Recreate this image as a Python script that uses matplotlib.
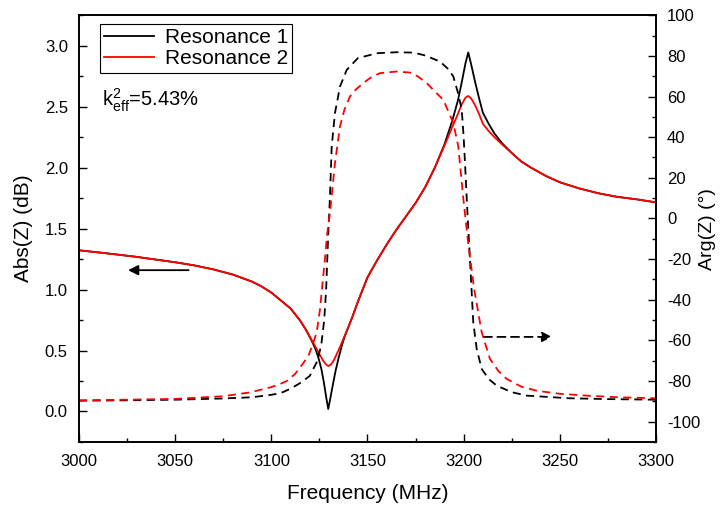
import matplotlib
matplotlib.use("Agg")
import matplotlib.pyplot as plt
from matplotlib.ticker import MultipleLocator, FormatStrFormatter

plt.rcParams['font.family'] = ['Liberation Sans', 'DejaVu Sans']
plt.rcParams['mathtext.fontset'] = 'custom'
plt.rcParams['mathtext.rm'] = 'Liberation Sans'
plt.rcParams['mathtext.it'] = 'Liberation Sans'
plt.rcParams['axes.unicode_minus'] = False

# Impedance magnitude (dB) for both resonances
freq_abs_1 = [3000, 3010, 3020, 3030, 3040, 3050, 3060, 3070, 3080, 3090, 3095,
              3100, 3105, 3110, 3115, 3118, 3121, 3123, 3124.5, 3126, 3127.3,
              3128.5, 3129.6, 3130.7, 3132, 3133.5, 3135, 3136.5, 3138, 3140,
              3142, 3145, 3150, 3155, 3160, 3165, 3170, 3175, 3180, 3185, 3190,
              3194, 3197, 3199, 3201, 3202.4, 3204, 3206, 3208, 3210, 3213,
              3216, 3220, 3225, 3230, 3235, 3243, 3250, 3260, 3270, 3280,
              3290, 3300]
abs_1 = [1.322, 1.305, 1.287, 1.268, 1.246, 1.224, 1.198, 1.165, 1.123, 1.065, 1.025,
         0.975, 0.91, 0.845, 0.745, 0.67, 0.58, 0.51, 0.44, 0.35, 0.24,
         0.12, 0.02, 0.11, 0.22, 0.34, 0.44, 0.53, 0.61, 0.69,
         0.77, 0.90, 1.10, 1.24, 1.37, 1.49, 1.60, 1.71, 1.84, 2.00, 2.19,
         2.38, 2.55, 2.70, 2.86, 2.945, 2.84, 2.70, 2.57, 2.45, 2.36,
         2.28, 2.20, 2.12, 2.05, 2.00, 1.93, 1.88, 1.83, 1.79, 1.76,
         1.74, 1.715]

freq_abs_2 = [3000, 3010, 3020, 3030, 3040, 3050, 3060, 3070, 3080, 3090, 3095,
              3100, 3105, 3110, 3115, 3118, 3121, 3123, 3125, 3127, 3128.5,
              3129.6, 3131, 3132.5, 3134, 3136, 3138, 3140, 3142, 3145, 3150,
              3155, 3160, 3165, 3170, 3175, 3180, 3185, 3190, 3194, 3197,
              3199, 3201, 3202.4, 3204, 3206, 3208, 3210, 3213, 3216, 3220,
              3225, 3230, 3235, 3243, 3250, 3260, 3270, 3280, 3290, 3300]
abs_2 = [1.322, 1.305, 1.287, 1.268, 1.246, 1.224, 1.198, 1.165, 1.123, 1.065, 1.025,
         0.975, 0.91, 0.845, 0.745, 0.67, 0.585, 0.53, 0.47, 0.415, 0.385,
         0.373, 0.385, 0.42, 0.47, 0.54, 0.615, 0.69, 0.77, 0.90, 1.10,
         1.24, 1.37, 1.49, 1.60, 1.71, 1.84, 2.00, 2.18, 2.33, 2.44,
         2.52, 2.575, 2.588, 2.565, 2.51, 2.44, 2.36, 2.30, 2.25, 2.19,
         2.12, 2.05, 2.00, 1.93, 1.88, 1.83, 1.79, 1.76, 1.74, 1.715]

# Impedance phase (degrees) for both resonances
freq_arg_1 = [3000, 3025, 3050, 3075, 3090, 3100, 3105, 3110, 3115, 3120, 3124,
              3126, 3127.5, 3128.5, 3129.5, 3130.5, 3131.4, 3133.1, 3135.7,
              3139.2, 3145, 3155, 3165, 3174, 3180, 3187.7, 3192, 3194.6, 3197,
              3199, 3200, 3200.7, 3202, 3203.5, 3205, 3206.8, 3209.4, 3213,
              3217.2, 3225, 3232.8, 3255, 3275, 3300]
arg_1 = [-89.7, -89.5, -89.2, -88.6, -88.0, -86.8, -85.9, -83.8, -81.0, -77.5, -70,
         -62, -50, -35, -10, 11, 35.5, 51.9, 64.9,
         73.1, 78.9, 81.3, 81.8, 81.6, 80.2, 77.2, 73.5, 69.9, 62,
         53.5, 40, 27.3, 2, -24, -51.2, -64.3, -74.1, -79,
         -82.3, -85.5, -87.2, -88.5, -88.9, -89.2]

freq_arg_2 = [3000, 3025, 3050, 3075, 3089, 3100, 3104.5, 3108, 3112.3, 3116, 3119.3,
              3121.5, 3123.6, 3125.3, 3127, 3127.9, 3129, 3130.5, 3131.8, 3133.1,
              3135.7, 3138, 3140.9, 3144, 3147.8, 3152, 3156.5, 3165, 3172, 3176,
              3180.8, 3185, 3189.4, 3194.6, 3197.2, 3199.8, 3202.4, 3205.5, 3209.4,
              3213.7, 3218, 3222.4, 3230, 3238, 3250, 3264, 3280, 3300]
arg_2 = [-89.5, -89.2, -88.8, -87.5, -85.6, -83, -81.5, -80, -76.6, -72, -67.6,
         -62, -56.1, -44.7, -28.3, -20, -8, 2.8, 15, 27.3,
         45.3, 53.5, 60, 63.5, 66.6, 69.5, 71.5, 72.3, 71.8, 70,
         66.6, 62.5, 58.4, 47, 35.5, 10, -12.5, -35, -56.1,
         -69.2, -75, -79, -82.8, -84.8, -86.3, -87.2, -88, -88.5]

labels = ['Resonance 1', 'Resonance 2']
colors = ['black', 'red']
lw = 1.3

fig = plt.figure(figsize=(7.2, 5.08), dpi=100)
ax = fig.add_axes([0.1097, 0.13, 0.8014, 0.84])
ax2 = ax.twinx()

ax.plot(freq_abs_1, abs_1, color=colors[0], lw=lw, label=labels[0], zorder=3)
ax.plot(freq_abs_2, abs_2, color=colors[1], lw=lw, label=labels[1], zorder=4)
ax2.plot(freq_arg_1, arg_1, color=colors[0], lw=lw, dashes=(4.5, 3))
ax2.plot(freq_arg_2, arg_2, color=colors[1], lw=lw, dashes=(4.5, 3))

ax.set_xlim(3000, 3300)
ax.set_ylim(-0.25, 3.25)
ax2.set_ylim(-110, 100)

ax.xaxis.set_major_locator(MultipleLocator(50))
ax.xaxis.set_minor_locator(MultipleLocator(25))
ax.yaxis.set_major_locator(MultipleLocator(0.5))
ax.yaxis.set_minor_locator(MultipleLocator(0.25))
ax2.yaxis.set_major_locator(MultipleLocator(20))
ax2.yaxis.set_minor_locator(MultipleLocator(10))
ax.yaxis.set_major_formatter(FormatStrFormatter('%.1f'))

for a in (ax, ax2):
    a.tick_params(which='major', direction='in', length=6, width=1.0, labelsize=12)
    a.tick_params(which='minor', direction='in', length=3, width=1.0)
    for s in a.spines.values():
        s.set_linewidth(1.2)
ax.tick_params(which='both', top=False, right=False)
ax2.tick_params(which='both', left=False, right=True)
ax.tick_params(axis='x', which='major', pad=8.5)
ax.tick_params(axis='y', which='major', pad=8)
ax2.tick_params(axis='y', which='major', pad=8)

ax.set_xlabel('Frequency (MHz)', fontsize=15)
ax.set_ylabel('Abs(Z) (dB)', fontsize=15)
ax2.set_ylabel('Arg(Z) (°)', fontsize=14)
ax.xaxis.set_label_coords(0.5, -0.098)
ax.yaxis.set_label_coords(-0.08, 0.5)
ax2.yaxis.set_label_coords(1.074, 0.5)

leg = ax.legend(loc='upper left', bbox_to_anchor=(0.0364, 0.979), fontsize=15,
                frameon=True, fancybox=False, edgecolor='black', framealpha=1,
                handlelength=2.4, borderpad=0.2, labelspacing=0.1,
                handletextpad=0.5, borderaxespad=0)
leg.get_frame().set_linewidth(0.8)

ax.text(3012, 2.556, r'k$_{\mathrm{eff}}^{2}$=5.43%', fontsize=14.5, va='center', ha='left')

# Arrows pointing each curve family to its axis
ax.annotate('', xy=(3025.5, 1.159), xytext=(3057, 1.159),
            arrowprops=dict(arrowstyle='-|>', color='black', lw=1.3,
                            mutation_scale=15, shrinkA=0, shrinkB=0))
ax2.annotate('', xy=(3246, -58.3), xytext=(3210.5, -58.3),
             arrowprops=dict(arrowstyle='-|>', color='black', lw=1.3, ls=(0, (4.5, 3)),
                             mutation_scale=15, shrinkA=0, shrinkB=0))

fig.savefig('out.png', dpi=100)
